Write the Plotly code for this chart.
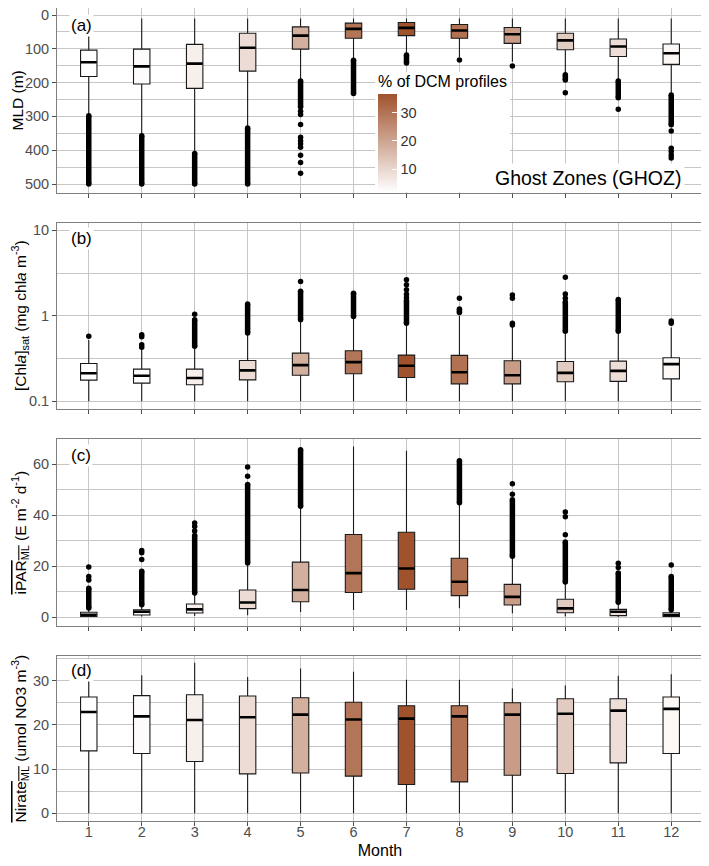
import plotly.graph_objects as go
from plotly.subplots import make_subplots
from plotly.colors import sample_colorscale

# ---------------- data ----------------
months = list(range(1, 13))
month_labels = [str(m) for m in months]
pct_dcm = [2.0, 2.7, 5.1, 8.9, 17.9, 29.6, 36.5, 30.3, 21.7, 12.4, 8.4, 3.4]

# (a) MLD (m)
mld_lo = [10] * 12
mld_q1 = [104, 101, 87, 54, 35, 24, 22, 28, 37, 54, 71, 86]
mld_med = [140, 152, 144, 97, 61, 41, 38, 46, 57, 75, 93, 113]
mld_q3 = [182, 204, 217, 166, 101, 69, 61, 69, 84, 103, 123, 146]
mld_hi = [294, 352, 405, 330, 193, 130, 114, 124, 138, 172, 190, 232]
mld_runs = [[[298, 500]], [[357, 500]], [[410, 500]], [[334, 500]], [[195, 272]], [[134, 232]],
            [[118, 142]], [], [], [[177, 192]], [[195, 245]], [[237, 325]]]
mld_pts = [[], [], [], [], [285, 294, 324, 362, 372, 381, 391, 415, 436, 468], [],
           [], [133], [151], [230], [279], [343, 394, 404, 414, 423]]

# (b) [Chla]sat
chl_lo = [0.1] * 12
chl_q1 = [0.177, 0.163, 0.156, 0.178, 0.202, 0.21, 0.19, 0.16, 0.16, 0.169, 0.171, 0.183]
chl_med = [0.213, 0.199, 0.187, 0.23, 0.265, 0.287, 0.26, 0.219, 0.202, 0.215, 0.227, 0.272]
chl_q3 = [0.277, 0.238, 0.238, 0.30, 0.366, 0.39, 0.347, 0.344, 0.298, 0.292, 0.295, 0.323]
chl_hi = [0.52, 0.40, 0.43, 0.62, 0.88, 0.96, 0.81, 1.0, 0.74, 0.64, 0.64, 0.73]
chl_runs = [[], [], [[0.44, 0.90]], [[0.63, 1.37]], [[0.90, 1.93]], [[0.98, 1.84]],
            [[0.82, 1.5]], [[1.09, 1.2]], [], [[0.66, 1.45]], [[0.66, 1.55]], []]
chl_pts = [[0.578], [0.43, 0.46, 0.57, 0.60], [1.04], [], [2.52], [],
           [1.62, 1.79, 2.01, 2.3, 2.64], [1.6], [0.78, 0.82, 1.6, 1.75], [1.6, 1.8, 2.83], [], [0.82, 0.87]]

# (c) iPAR_ML
par_lo = [0.1, 0.3, 0.5, 0.8, 2.1, 2.9, 2.9, 3.5, 1.6, 0.3, 0.1, 0.05]
par_q1 = [0.3, 0.9, 1.7, 3.4, 6.1, 9.7, 11.0, 8.5, 4.8, 1.8, 0.65, 0.3]
par_med = [1.0, 2.2, 3.1, 5.8, 10.7, 17.3, 19.1, 13.9, 8.0, 3.5, 2.2, 0.9]
par_q3 = [2.0, 2.9, 5.2, 10.7, 21.6, 32.4, 33.3, 23.1, 12.9, 7.1, 3.1, 1.8]
par_hi = [3.5, 4.8, 9.4, 21.2, 43.4, 66.9, 65.2, 44.7, 23.8, 13.7, 5.8, 2.9]
par_runs = [[[3.6, 11.4]], [[4.9, 18.0]], [[9.5, 32.0]], [[21.3, 52.0]], [[43.5, 65.6]], [],
            [], [[44.8, 61.3]], [[23.9, 46.0]], [[13.8, 29.5]], [[5.9, 17.3]], [[3.0, 16.0]]]
par_pts = [[14.6, 16.0, 19.7], [22.6, 25.3, 26.2], [33.8, 35.5, 36.9], [55.2, 58.8], [], [],
           [], [], [48.2, 52.3], [32.3, 39.4, 41.2], [19.5, 21.2], [20.5]]

# (d) Nitrate_ML
nit_lo = [0] * 12
nit_q1 = [14.1, 13.5, 11.7, 8.9, 9.1, 8.4, 6.5, 7.1, 8.6, 9.0, 11.4, 13.5]
nit_med = [22.9, 21.9, 21.1, 21.7, 22.3, 21.2, 21.4, 21.9, 22.3, 22.5, 23.2, 23.6]
nit_q3 = [26.3, 26.6, 26.8, 26.5, 26.1, 25.1, 24.3, 24.3, 25.0, 25.9, 25.9, 26.3]
nit_hi = [30.8, 31.2, 34.0, 30.8, 32.7, 32.0, 30.2, 30.2, 28.2, 28.9, 31.1, 31.4]
nit_runs = [[] for _ in months]
nit_pts = [[] for _ in months]

# ---------------- styling ----------------
FONT = "Liberation Sans, Arial, Helvetica, sans-serif"
GRID = "#c6c6c6"
BORDER = "#7f7f7f"
TICKC = "#4d4d4d"
cscale = [[0, "#FFFFFF"], [1, "#A0522D"]]
cmin, cmax = min(pct_dcm), max(pct_dcm)
fills = sample_colorscale(cscale, [(p - cmin) / (cmax - cmin) for p in pct_dcm])

# the page body adds an 8px offset; figure is sized so the plot lands where the reference has it
OFF = 8
PL, PR = 57, 703          # plot area left/right in screen px
PT, PB = 8, 821           # plot area top/bottom in screen px
PW, PH = PR - PL, PB - PT


def yf(py):
    return (PB - py) / PH


def xf(px):
    return (px - PL) / PW


fig = make_subplots(rows=4, cols=1)


def add_panel(row, lo, q1, med, q3, hi, runs, pts):
    for i, m in enumerate(months):
        fig.add_trace(go.Box(x=[m], q1=[q1[i]], median=[med[i]], q3=[q3[i]],
                             lowerfence=[lo[i]], upperfence=[hi[i]],
                             fillcolor=fills[i], line=dict(color="#1a1a1a", width=1.1),
                             whiskerwidth=0, width=0.31, boxpoints=False,
                             showlegend=False, hoverinfo="skip"), row=row, col=1)
        fig.add_trace(go.Box(x=[m], q1=[med[i]], median=[med[i]], q3=[med[i]],
                             lowerfence=[med[i]], upperfence=[med[i]],
                             fillcolor="black", line=dict(color="black", width=2.6),
                             whiskerwidth=0, width=0.295, boxpoints=False,
                             showlegend=False, hoverinfo="skip"), row=row, col=1)
    rx, ry = [], []
    for i, m in enumerate(months):
        for r in runs[i]:
            rx += [m, m, None]
            ry += [r[0], r[1], None]
    if rx:
        fig.add_trace(go.Scatter(x=rx, y=ry, mode="lines+markers",
                                 line=dict(color="black", width=5.5),
                                 marker=dict(color="black", size=5.5),
                                 showlegend=False, hoverinfo="skip"), row=row, col=1)
    px_, py_ = [], []
    for i, m in enumerate(months):
        for p in pts[i]:
            px_.append(m)
            py_.append(p)
    if px_:
        fig.add_trace(go.Scatter(x=px_, y=py_, mode="markers",
                                 marker=dict(color="black", size=5.5),
                                 showlegend=False, hoverinfo="skip"), row=row, col=1)


add_panel(1, mld_lo, mld_q1, mld_med, mld_q3, mld_hi, mld_runs, mld_pts)
add_panel(2, chl_lo, chl_q1, chl_med, chl_q3, chl_hi, chl_runs, chl_pts)
add_panel(3, par_lo, par_q1, par_med, par_q3, par_hi, par_runs, par_pts)
add_panel(4, nit_lo, nit_q1, nit_med, nit_q3, nit_hi, nit_runs, nit_pts)

# colourbar carrier (invisible markers); white bg acts as legend box
fig.add_trace(go.Scatter(
    x=months, y=mld_med, mode="markers", showlegend=False, hoverinfo="skip",
    marker=dict(color=pct_dcm, colorscale=cscale, cmin=cmin, cmax=cmax, opacity=0,
                showscale=True,
                colorbar=dict(x=xf(375), xanchor="left", xpad=3,
                              y=yf(192), yanchor="bottom", ypad=0,
                              len=120, lenmode="pixels", thickness=19, outlinewidth=0,
                              bgcolor="white",
                              tickvals=[10, 20, 30], ticks="inside", ticklen=5,
                              tickcolor="white", tickwidth=1,
                              tickfont=dict(family=FONT, size=14.5, color="#333333"),
                              title=dict(text="% of DCM profiles", side="top",
                                         font=dict(family=FONT, size=16, color="black")))),
), row=1, col=1)

domains = [[yf(193), 1.0], [yf(409), yf(223)], [yf(626), yf(439)], [0.0, yf(656)]]
for r in range(1, 5):
    fig.update_xaxes(range=[0.4, 12.6], tickvals=months, ticktext=month_labels,
                     showgrid=True, gridcolor=GRID, gridwidth=0.8, zeroline=False,
                     showline=True, mirror=True, linecolor=BORDER, linewidth=1,
                     ticks="outside", ticklen=4, tickcolor=TICKC,
                     showticklabels=(r == 4), ticklabeloverflow="allow",
                     tickfont=dict(family=FONT, size=14.5, color=TICKC),
                     row=r, col=1)
    fig.update_yaxes(domain=domains[r - 1], showgrid=True, gridcolor=GRID, gridwidth=0.8,
                     zeroline=False, showline=True, mirror=True, linecolor=BORDER,
                     linewidth=1, ticks="outside", ticklen=4, tickcolor=TICKC,
                     ticklabeloverflow="allow",
                     tickfont=dict(family=FONT, size=14.5, color=TICKC),
                     row=r, col=1)

fig.update_yaxes(range=[526.6, -20.7], tickvals=[0, 100, 200, 300, 400, 500],
                 minor=dict(tickvals=[50, 150, 250, 350, 450], showgrid=True,
                            gridcolor=GRID, gridwidth=0.8), row=1, col=1)
fig.update_yaxes(type="log", range=[-1.09, 1.085], tickvals=[0.1, 1, 10],
                 ticktext=["0.1", "1", "10"],
                 minor=dict(tickvals=[10 ** -0.5, 10 ** 0.5], showgrid=True,
                            gridcolor=GRID, gridwidth=0.8), row=2, col=1)
fig.update_yaxes(range=[-3.4, 69.8], tickvals=[0, 20, 40, 60],
                 minor=dict(tickvals=[10, 30, 50], showgrid=True,
                            gridcolor=GRID, gridwidth=0.8), row=3, col=1)
fig.update_yaxes(range=[-1.74, 35.55], tickvals=[0, 10, 20, 30],
                 minor=dict(tickvals=[5, 15, 25, 35], showgrid=True,
                            gridcolor=GRID, gridwidth=0.8), row=4, col=1)
fig.update_xaxes(ticklabelstandoff=-6,
                 title=dict(text="Month", font=dict(family=FONT, size=16, color="black"),
                            standoff=5), row=4, col=1)

# y-axis titles (rotated annotations)
ytitles = [
    ("MLD (m)", 17, "y"),
    ("[Chl<i>a</i>]<sub>sat</sub> (mg chl<i>a</i> m<sup>-3</sup>)", 20, "y2"),
    ("<span style=\"text-decoration:overline\">iPAR<sub>ML</sub></span> (E m<sup>-2</sup> d<sup>-1</sup>)", 20, "y3"),
    ("<span style=\"text-decoration:overline\">Nirate<sub>ML</sub></span> (umol NO3 m<sup>-3</sup>)", 20, "y4"),
]
for text, xc, yref in ytitles:
    fig.add_annotation(text=text, x=xf(xc), xref="paper", xanchor="center",
                       y=0.5, yref=yref + " domain", yanchor="middle", textangle=-90,
                       showarrow=False, font=dict(family=FONT, size=15.5, color="black"))

# panel letters
letters = [("(a)", "x", "y", 0.908), ("(b)", "x2", "y2", 0.914),
           ("(c)", "x3", "y3", 0.914), ("(d)", "x4", "y4", 0.915)]
for t, xr, yr, yy in letters:
    fig.add_annotation(text=t, x=xf(81), xref=xr + " domain", xanchor="center",
                       y=yy, yref=yr + " domain", yanchor="middle",
                       showarrow=False, bgcolor="white", borderpad=1,
                       font=dict(family=FONT, size=17, color="black"))

fig.add_annotation(text="Ghost Zones (GHOZ)", x=xf(588), xref="x domain",
                   xanchor="center", y=0.081, yref="y domain", yanchor="middle",
                   showarrow=False, bgcolor="white", borderpad=3,
                   font=dict(family=FONT, size=19.5, color="black"))

fig.update_layout(width=709 - OFF, height=866 - OFF,
                  margin=dict(l=PL - OFF, r=709 - PR, t=PT - OFF, b=866 - PB),
                  plot_bgcolor="white", paper_bgcolor="white",
                  font=dict(family=FONT), showlegend=False)

fig.write_html("out.html")
